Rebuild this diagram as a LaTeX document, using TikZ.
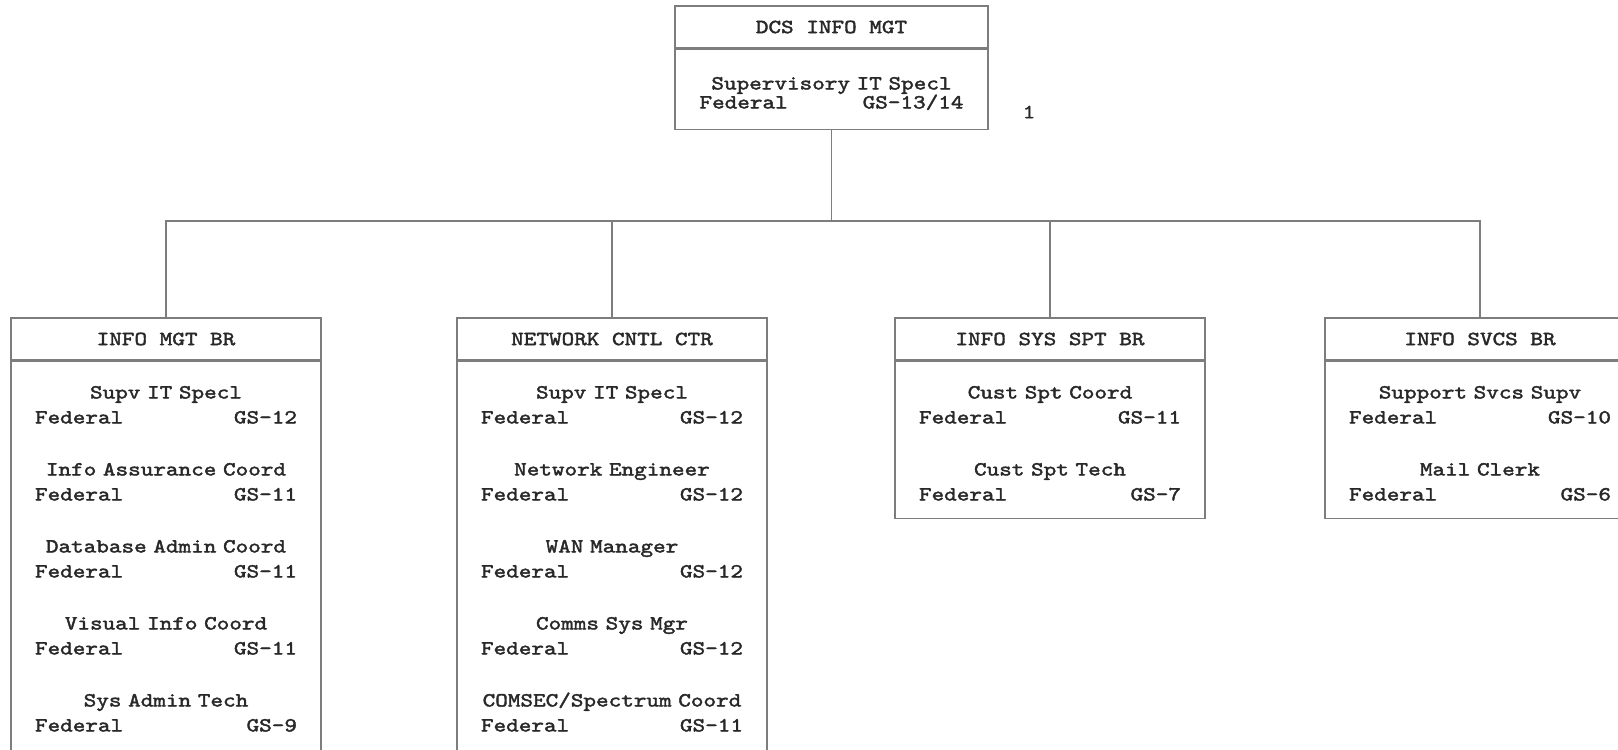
\documentclass[tikz,border=0pt]{standalone}
\usepackage{fontspec}
\usetikzlibrary{positioning, calc}

\newfontfamily\chartmono{lmmono10-regular.otf}[FakeStretch=1.2, FakeBold=2]
\definecolor{ink}{RGB}{40,40,40}
\definecolor{rule}{RGB}{125,125,125}
\newcommand{\chartfont}{\chartmono\fontsize{20}{25}\selectfont}
\newcommand{\billet}[2]{#1\\\makebox[\linewidth]{Federal\hfill #2}}

\begin{document}
\begin{tikzpicture}[
  x=1pt, y=-1pt,
  % Office boxes (title strip + body)
  head/.style={rectangle, draw=rule, line width=1.6pt, minimum width=310pt, minimum height=42pt, inner sep=0pt, text=ink, font=\chartfont},
  body/.style={rectangle, draw=rule, line width=1.6pt, minimum width=310pt, inner sep=0pt},
  % Position listings
  post/.style={text width=262pt, align=center, inner sep=0pt, text=ink, font=\chartfont},
  wire/.style={draw=rule, line width=1.6pt}
  ]
  \clip (0,0) rectangle (1618,750);

  % --- Top office ---
  \node[head, minimum width=313pt] (hTop) at (831.5,27) {DCS INFO MGT};
  \node[body, minimum width=313pt, minimum height=80pt, below=0pt of hTop] (bTop) {};
  \node[post, text width=264pt, font=\chartmono\fontsize{20}{19}\selectfont, below=28pt of hTop] (pTop)
    {\billet{Supervisory IT Specl}{GS-13/14}};
  \node[text=ink, font=\chartfont] (tag) at (1029,112) {1};

  % --- Branches ---
  \node[head] (hIMB) at (166,339) {INFO MGT BR};
  \node[head] (hNCC) at (612,339) {NETWORK CNTL CTR};
  \node[head] (hISS) at (1050,339) {INFO SYS SPT BR};
  \node[head] (hSVC) at (1480,339) {INFO SVCS BR};

  \node[body, minimum height=420pt, below=0pt of hIMB] (bIMB) {};
  \node[body, minimum height=420pt, below=0pt of hNCC] (bNCC) {};
  \node[body, minimum height=157pt, below=0pt of hISS] (bISS) {};
  \node[body, minimum height=157pt, below=0pt of hSVC] (bSVC) {};

  % Info Mgt Br staff
  \node[post, below=25pt of hIMB] (pIMB) {\billet{Supv IT Specl}{GS-12}\\[27pt]
    \billet{Info Assurance Coord}{GS-11}\\[27pt]
    \billet{Database Admin Coord}{GS-11}\\[27pt]
    \billet{Visual Info Coord}{GS-11}\\[27pt]
    \billet{Sys Admin Tech}{GS-9}};

  % Network Cntl Ctr staff
  \node[post, below=25pt of hNCC] (pNCC) {\billet{Supv IT Specl}{GS-12}\\[27pt]
    \billet{Network Engineer}{GS-12}\\[27pt]
    \billet{WAN Manager}{GS-12}\\[27pt]
    \billet{Comms Sys Mgr}{GS-12}\\[27pt]
    \billet{COMSEC/Spectrum Coord}{GS-11}};

  % Info Sys Spt Br staff
  \node[post, below=25pt of hISS] (pISS) {\billet{Cust Spt Coord}{GS-11}\\[27pt]
    \billet{Cust Spt Tech}{GS-7}};

  % Info Svcs Br staff
  \node[post, below=25pt of hSVC] (pSVC) {\billet{Support Svcs Supv}{GS-10}\\[27pt]
    \billet{Mail Clerk}{GS-6}};

  % --- Wiring ---
  \coordinate (bus) at (831.5,221);
  \draw[wire] (bTop.south) -- (bus);
  \draw[wire] (hIMB.north) |- (bus);
  \draw[wire] (hNCC.north) |- (bus);
  \draw[wire] (hISS.north) |- (bus);
  \draw[wire] (hSVC.north) |- (bus);

\end{tikzpicture}
\end{document}
